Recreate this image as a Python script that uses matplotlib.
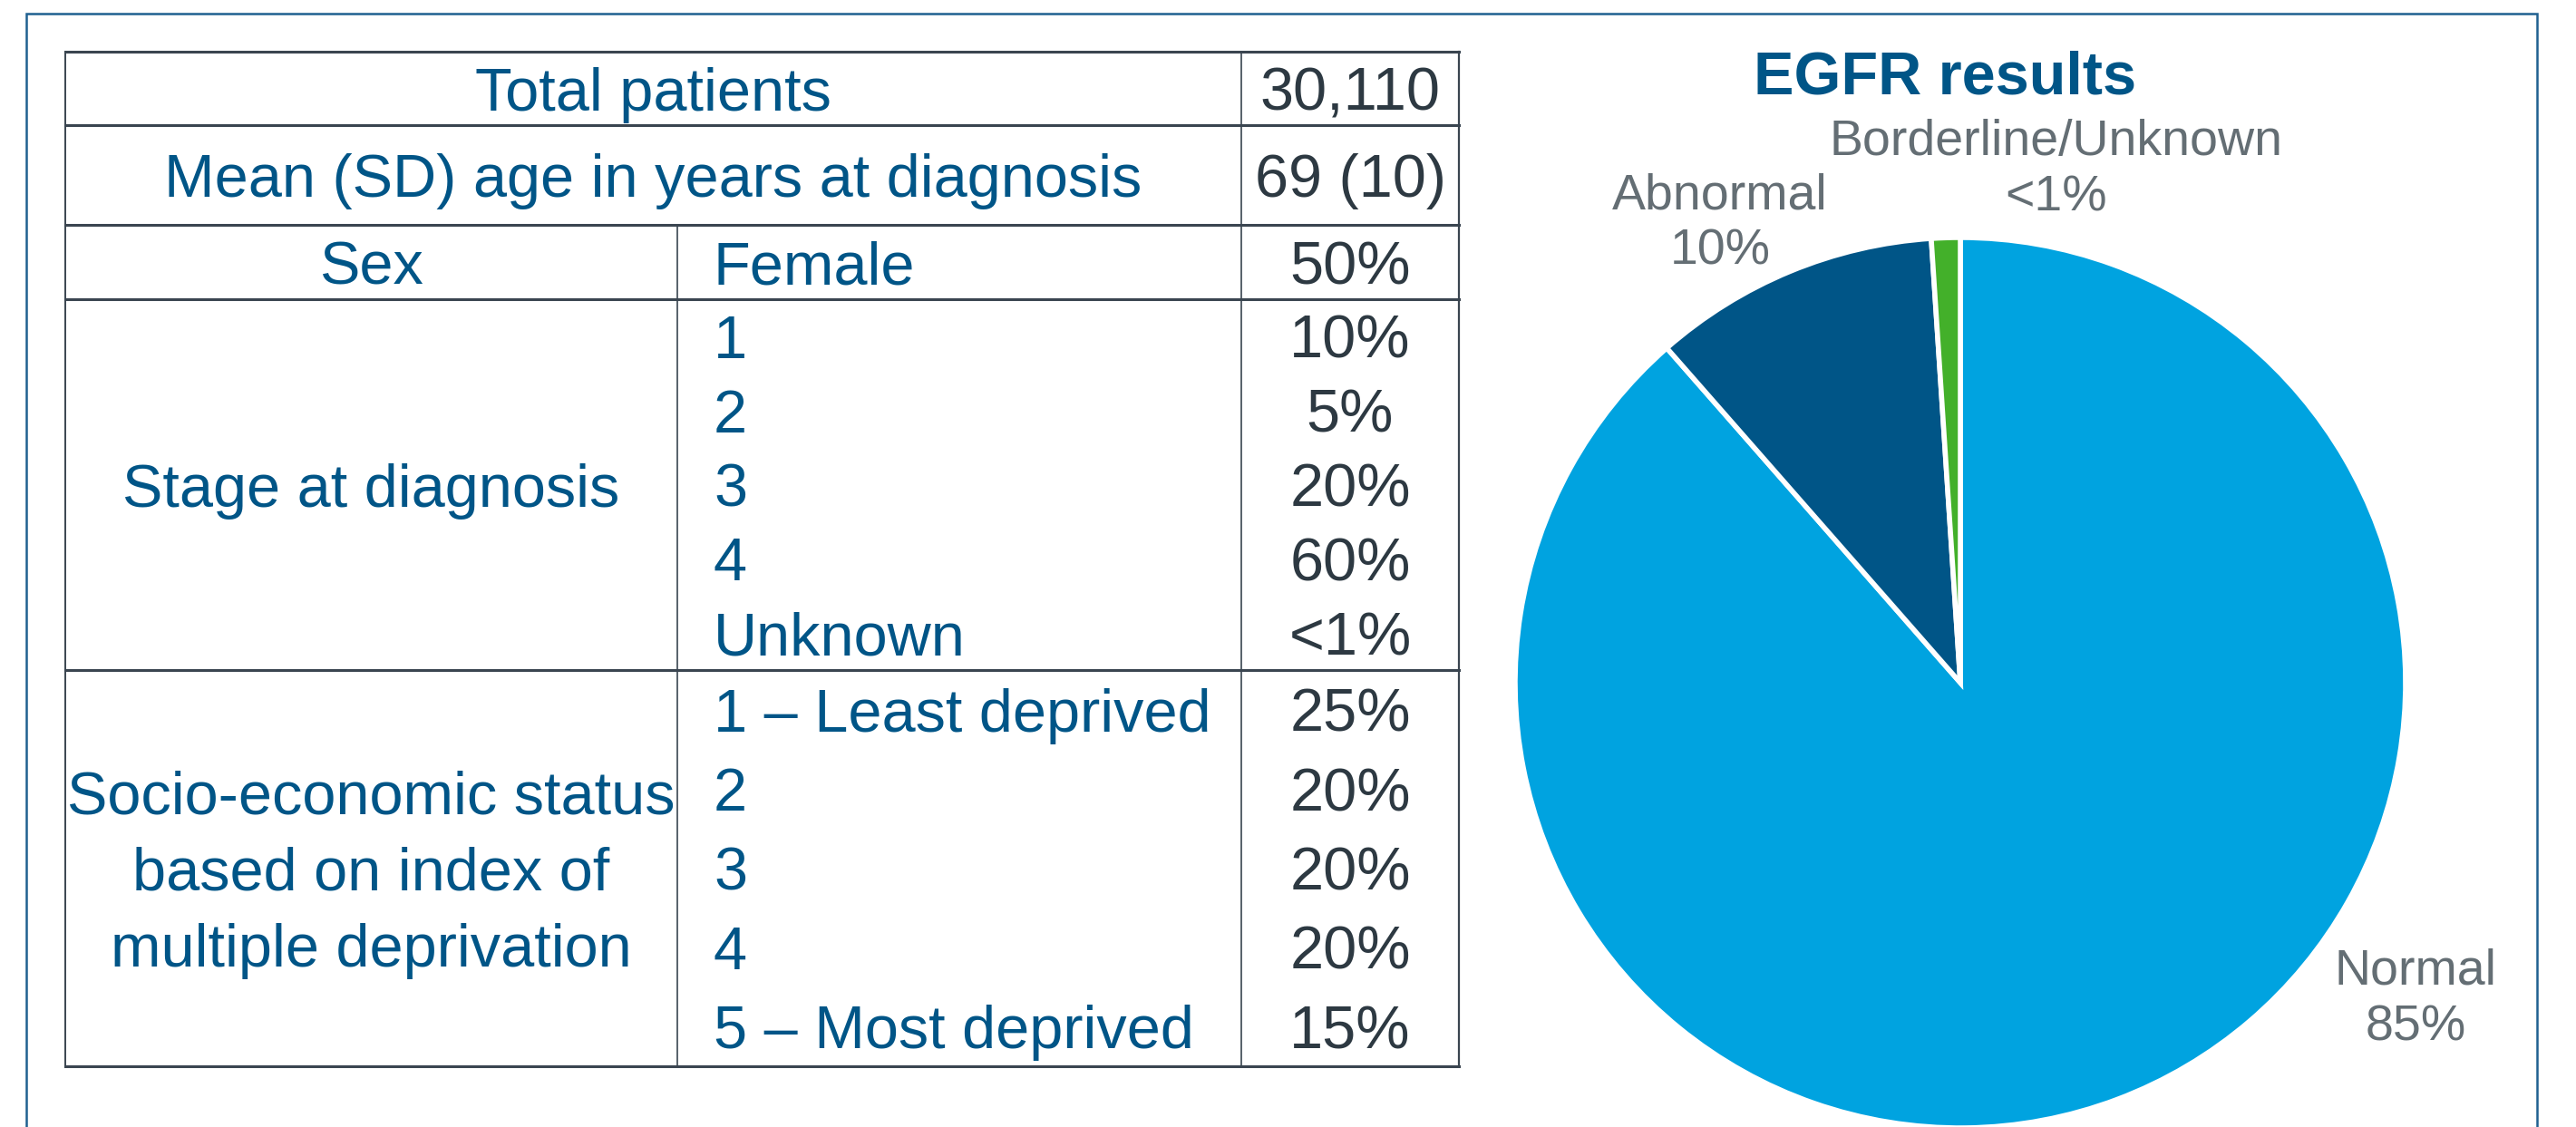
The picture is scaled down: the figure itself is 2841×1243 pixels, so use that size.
import matplotlib
matplotlib.use("Agg")
import matplotlib.pyplot as plt

plt.rcParams['font.family'] = ['Liberation Sans', 'DejaVu Sans']

# table content
header_labels = ["Total patients", "Mean (SD) age in years at diagnosis"]
header_values = ["30,110", "69 (10)"]
sex_label, sex_level, sex_value = "Sex", "Female", "50%"
stage_label = ["Stage at diagnosis"]
stage_levels = ["1", "2", "3", "4", "Unknown"]
stage_values = ["10%", "5%", "20%", "60%", "<1%"]
ses_label = ["Socio-economic status", "based on index of", "multiple deprivation"]
ses_levels = ["1 \u2013 Least deprived", "2", "3", "4", "5 \u2013 Most deprived"]
ses_values = ["25%", "20%", "20%", "20%", "15%"]

# pie content
egfr_title = "EGFR results"
egfr_labels = ["Normal", "Abnormal", "Borderline/Unknown"]
egfr_share = [85, 10, 1]
egfr_text = ["85%", "10%", "<1%"]
egfr_colors = ["#00a3e0", "#005587", "#43b02a"]

BLUE = "#005587"
GREY_VAL = "#2d3942"
GREY_LAB = "#646e74"
LINE = "#3a4550"

W, H = 2841, 1243
fig = plt.figure(figsize=(W / 100, H / 100), dpi=100)
bg = fig.add_axes([0, 0, 1, 1])
bg.set_xlim(0, W)
bg.set_ylim(H, 0)
bg.axis("off")

# outer frame (bottom runs off the image)
bg.plot([29, 29, 2798, 2798], [H + 5, 15, 15, H + 5], color="#1f6090", lw=1.8,
        solid_joinstyle="miter")

# table grid
cols = [72, 747, 1369, 1609]
rows = [57, 138, 248, 330, 739, 1176]
fs = 48
cap = 24  # half cap height in px, to centre capitals in a row
for y in rows:
    bg.plot([cols[0], cols[-1]], [y, y], color=LINE, lw=2.2)
bg.plot([cols[0], cols[0]], [rows[0], rows[-1]], color=LINE, lw=1.4)
bg.plot([cols[3], cols[3]], [rows[0], rows[-1]], color=LINE, lw=1.6)
bg.plot([cols[2], cols[2]], [rows[0], rows[-1]], color=LINE, lw=1.2)
bg.plot([cols[1], cols[1]], [rows[2], rows[-1]], color=LINE, lw=1.2)

xc12 = (cols[0] + cols[2]) / 2
xc1 = (cols[0] + cols[1]) / 2
xc3 = (cols[2] + cols[3]) / 2
x2 = cols[1] + 40


def put(x, yc, s, ha, color, size=fs):
    bg.text(x, yc + cap * size / fs, s, ha=ha, va="baseline", fontsize=size, color=color)


for i, (lab, val) in enumerate(zip(header_labels, header_values)):
    yc = (rows[i] + rows[i + 1]) / 2
    put(xc12, yc, lab, "center", BLUE)
    put(xc3, yc, val, "center", GREY_VAL)

yc = (rows[2] + rows[3]) / 2
put(xc1, yc, sex_label, "center", BLUE)
put(x2, yc, sex_level, "left", BLUE)
put(xc3, yc, sex_value, "center", GREY_VAL)


def block(top, bottom, label, levels, values):
    mid = (top + bottom) / 2
    n = len(label)
    for k, line in enumerate(label):
        put(xc1, mid + (k - (n - 1) / 2) * 84, line, "center", BLUE)
    step = (bottom - top) / len(levels)
    for j, (lv, v) in enumerate(zip(levels, values)):
        y = top + step * (j + 0.5)
        put(x2, y, lv, "left", BLUE)
        put(xc3, y, v, "center", GREY_VAL)


block(rows[3], rows[4], stage_label, stage_levels, stage_values)
block(rows[4], rows[5], ses_label, ses_levels, ses_values)

# pie
cx, cy, r = 2162, 753, 491
pax = fig.add_axes([(cx - r) / W, (H - cy - r) / H, 2 * r / W, 2 * r / H])
pax.pie(egfr_share, colors=egfr_colors, startangle=90, counterclock=False,
        wedgeprops=dict(edgecolor="white", linewidth=4))
pax.set_xlim(-1, 1)
pax.set_ylim(-1, 1)
pax.axis("off")

bg.text(2145, 103, egfr_title, ha="center", va="baseline", fontsize=48,
        fontweight="bold", color=BLUE)

# x centre and baseline of first label line
label_pos = [(2664, 1086), (1897, 230), (2268, 171)]
for lab, txt, (lx, ly) in zip(egfr_labels, egfr_text, label_pos):
    bg.text(lx, ly, lab, ha="center", va="baseline", fontsize=40, color=GREY_LAB)
    bg.text(lx, ly + 61, txt, ha="center", va="baseline", fontsize=40, color=GREY_LAB)

fig.savefig("out.png", dpi=100)
